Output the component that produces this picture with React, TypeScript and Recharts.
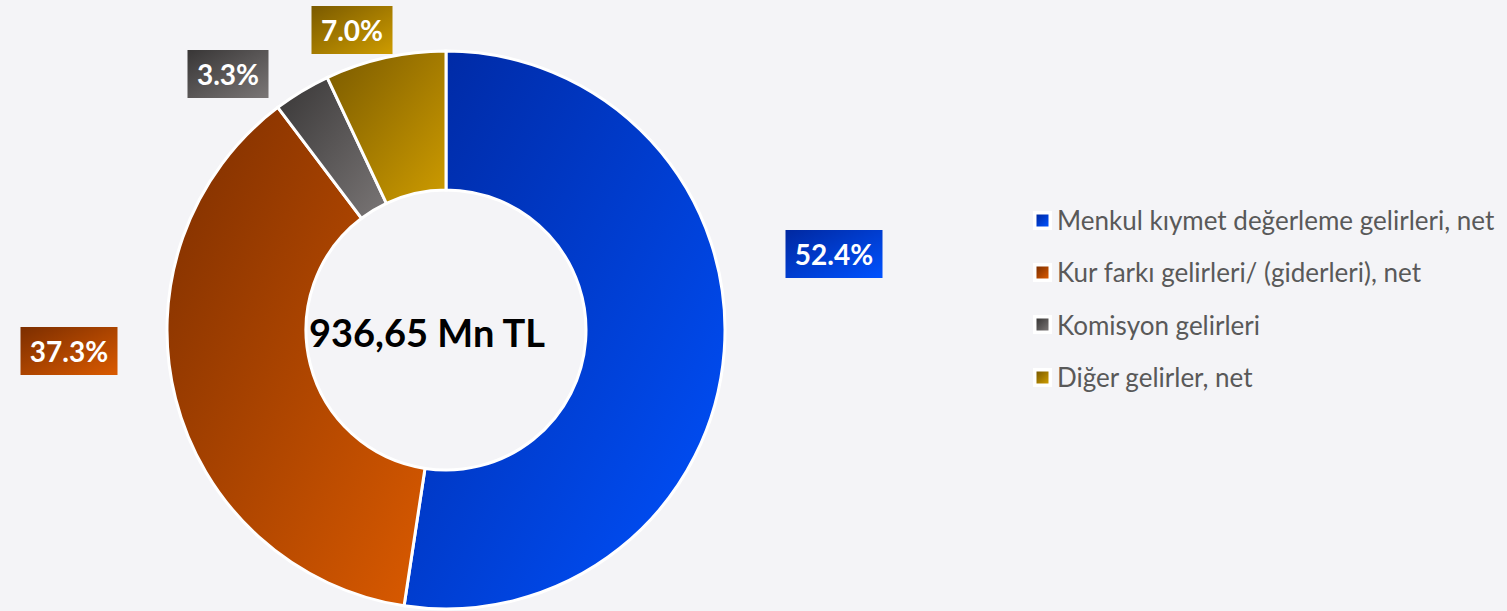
import React from 'react';
import { PieChart, Pie, Cell, Legend } from 'recharts';

const categories = [
  'Menkul kıymet değerleme gelirleri, net',
  'Kur farkı gelirleri/ (giderleri), net',
  'Komisyon gelirleri',
  'Diğer gelirler, net',
];
const shares = [52.4, 37.3, 3.3, 7.0];
const shareLabels = ['52.4%', '37.3%', '3.3%', '7.0%'];
const centerText = '936,65 Mn TL';

const gradients = [
  { id: 'g0', from: '#0028A0', to: '#0052FF' },
  { id: 'g1', from: '#7C2E00', to: '#DA5A00' },
  { id: 'g2', from: '#383636', to: '#7A7676' },
  { id: 'g3', from: '#7A5A00', to: '#CE9C00' },
];

// label box centres relative to pie centre (style/layout only)
const labelOffsets = [
  { dx: 388, dy: -76 },
  { dx: -377, dy: 21 },
  { dx: -218, dy: -256 },
  { dx: -94, dy: -300 },
];

const data = categories.map((name, i) => ({ name, value: shares[i], label: shareLabels[i] }));

const FONT = 'Lato, "Open Sans", sans-serif';

const renderLabel = (props: any) => {
  const { cx, cy, index } = props;
  const off = labelOffsets[index];
  const text = data[index].label;
  const w = text.length >= 5 ? 97 : 81;
  const h = 48;
  const x = cx + off.dx;
  const y = cy + off.dy;
  return (
    <g key={`lbl-${index}`}>
      <rect x={x - w / 2} y={y - h / 2} width={w} height={h} fill={`url(#${gradients[index].id})`} />
      <text
        x={x}
        y={y}
        textAnchor="middle"
        dominantBaseline="central"
        fill="#FFFFFF"
        fontFamily={FONT}
        fontWeight={700}
        fontSize={28}
      >
        {text}
      </text>
      {index === 0 && (
        <text
          x={cx - 19}
          y={cy + 17}
          textAnchor="middle"
          fill="#000000"
          fontFamily={FONT}
          fontWeight={700}
          fontSize={38}
        >
          {centerText}
        </text>
      )}
    </g>
  );
};

const LegendContent = () => {
  return (
    <div style={{ fontFamily: FONT }}>
      {categories.map((name, i) => (
        <div key={i} style={{ display: 'flex', alignItems: 'center', height: 52.3 }}>
          <svg width={19} height={19} style={{ marginRight: 5, flex: 'none' }}>
            <rect x={0} y={0} width={19} height={19} fill="#FFFFFF" />
            <rect x={3.5} y={3.5} width={12} height={12} fill={`url(#${gradients[i].id})`} />
          </svg>
          <span style={{ color: '#595959', fontSize: 26, whiteSpace: 'nowrap' }}>{name}</span>
        </div>
      ))}
    </div>
  );
};

export default function App() {
  return (
    <div style={{ position: 'absolute', left: 0, top: 0, width: 1507, height: 611, background: '#F4F4F7' }}>
      <PieChart width={1507} height={611} margin={{ top: 0, right: 0, bottom: 0, left: 0 }}>
        <defs>
          {gradients.map((g) => (
            <linearGradient key={g.id} id={g.id} x1="0" y1="0" x2="1" y2="1">
              <stop offset="0%" stopColor={g.from} />
              <stop offset="100%" stopColor={g.to} />
            </linearGradient>
          ))}
        </defs>
        <Pie
          data={data}
          dataKey="value"
          nameKey="name"
          cx={446}
          cy={330}
          innerRadius={140}
          outerRadius={279}
          startAngle={90}
          endAngle={-270}
          stroke="#FFFFFF"
          strokeWidth={3}
          isAnimationActive={false}
          label={renderLabel}
          labelLine={false}
        >
          {data.map((d, i) => (
            <Cell key={d.name} fill={`url(#${gradients[i].id})`} />
          ))}
        </Pie>
        <Legend
          layout="vertical"
          verticalAlign="top"
          align="right"
          wrapperStyle={{ left: 1033, right: 'auto', top: 194, width: 474 }}
          content={<LegendContent />}
        />
      </PieChart>
    </div>
  );
}
